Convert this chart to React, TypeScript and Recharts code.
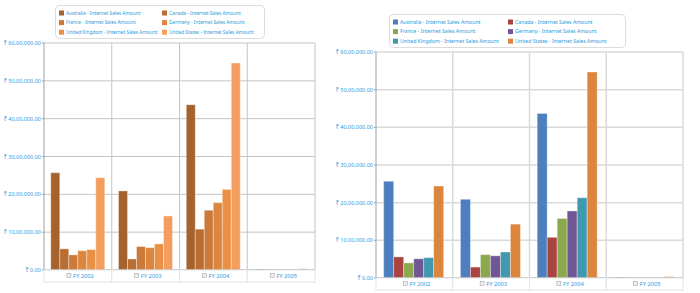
import React from 'react';
import { BarChart, Bar, XAxis, YAxis, CartesianGrid } from 'recharts';

// Internet sales by fiscal year (rupees)
const categories = ['FY 2002', 'FY 2003', 'FY 2004', 'FY 2005'];
const australia = [2570000, 2090000, 4370000, 25000];
const canada = [560000, 290000, 1080000, 15000];
const france = [400000, 620000, 1580000, 5000];
const germany = [510000, 590000, 1780000, 5000];
const unitedKingdom = [540000, 690000, 2130000, 6000];
const unitedStates = [2440000, 1430000, 5470000, 35000];
const yTicks = [0, 1000000, 2000000, 3000000, 4000000, 5000000, 6000000];

const SERIES = [
  { key: 'australia', name: 'Australia - Internet Sales Amount', values: australia },
  { key: 'canada', name: 'Canada - Internet Sales Amount', values: canada },
  { key: 'france', name: 'France - Internet Sales Amount', values: france },
  { key: 'germany', name: 'Germany - Internet Sales Amount', values: germany },
  { key: 'uk', name: 'United Kingdom - Internet Sales Amount', values: unitedKingdom },
  { key: 'us', name: 'United States - Internet Sales Amount', values: unitedStates },
];

const data = categories.map((year, i) => {
  const row: Record<string, string | number> = { year };
  SERIES.forEach((s) => {
    row[s.key] = s.values[i];
  });
  return row;
});

const ORANGE = ['#a6622c', '#b96d33', '#cc7a3a', '#dc853f', '#ea9046', '#f39e5f'];
const OFFICE = ['#4d7ebd', '#a94440', '#8ca84e', '#715695', '#4199b0', '#dd853c'];

const TEXT = '#2a9be0';
const FONT = '"Noto Sans", "DejaVu Sans", sans-serif';

// Indian digit grouping: 60,00,000.00
const fmtINR = (v: number) => {
  const s = Math.round(v).toString();
  const last3 = s.slice(-3);
  let rest = s.slice(0, -3);
  if (rest) rest = rest.replace(/\B(?=(\d{2})+(?!\d))/g, ',') + ',';
  return `₹ ${rest}${last3}.00`;
};

const XTick = (props: any) => {
  const { x, y, payload, bw } = props;
  return (
    <g>
      <rect x={x - bw / 2} y={y} width={bw} height={12} fill="#fff" stroke="#e4e4e4" />
      <rect x={x - 11} y={y + 3.5} width={4} height={4} fill="#eee" stroke="#999" strokeWidth={0.5} />
      <text x={x - 5} y={y + 7.5} fontSize={5.8} fill={TEXT} fontFamily={FONT}>
        {payload.value}
      </text>
    </g>
  );
};

const YTick = (props: any) => {
  const { x, y, payload } = props;
  return (
    <text x={x} y={y + 2} textAnchor="end" fontSize={5.5} fill={TEXT} fontFamily={FONT}>
      {fmtINR(payload.value)}
    </text>
  );
};

const LegendBox = ({
  colors,
  width,
  colW,
  fontSize,
}: {
  colors: string[];
  width: number;
  colW: number;
  fontSize: number;
}) => (
  <svg width={width} height={34} style={{ display: 'block' }}>
    <rect x={0.5} y={0.5} width={width - 1} height={33} rx={4} fill="#fff" stroke="#dcdcdc" />
    {SERIES.map((s, i) => {
      const cx = 4 + (i % 2) * colW;
      const cy = 8 + Math.floor(i / 2) * 9.6;
      return (
        <g key={s.key}>
          <rect x={cx} y={cy - 2.5} width={5} height={5} fill={colors[i]} />
          <text x={cx + 7} y={cy + 1.8} fontSize={fontSize} fill={TEXT} fontFamily={FONT}>
            {s.name}
          </text>
        </g>
      );
    })}
  </svg>
);

interface PanelProps {
  left: number;
  width: number;
  margin: { top: number; right: number; bottom: number; left: number };
  yWidth: number;
  colors: string[];
  grid: string;
  gridWidth: number;
  axis: string;
}

const Panel = ({ left, width, margin, yWidth, colors, grid, gridWidth, axis }: PanelProps) => {
  const plotW = width - margin.left - margin.right - yWidth;
  const bw = plotW / categories.length;
  return (
    <div style={{ position: 'absolute', left, top: 0 }}>
      <BarChart width={width} height={293} data={data} margin={margin} barCategoryGap="10%" barGap={0}>
        <CartesianGrid
          stroke={grid}
          strokeWidth={gridWidth}
          verticalCoordinatesGenerator={({ offset }: any) =>
            categories.map((_, i) => offset.left + (i + 1) * (offset.width / categories.length))
          }
        />
        <XAxis
          dataKey="year"
          height={13}
          interval={0}
          tickLine={false}
          tickSize={0}
          tickMargin={0}
          stroke={axis}
          tick={<XTick bw={bw} />}
        />
        <YAxis
          width={yWidth}
          domain={[0, 6000000]}
          ticks={yTicks}
          interval={0}
          tickSize={2}
          tickMargin={1}
          stroke={axis}
          tick={<YTick />}
        />
        {SERIES.map((s, i) => (
          <Bar
            key={s.key}
            dataKey={s.key}
            name={s.name}
            fill={colors[i]}
            stroke="rgba(255,255,255,0.35)"
            strokeWidth={1}
            isAnimationActive={false}
          />
        ))}
      </BarChart>
    </div>
  );
};

export default function App() {
  return (
    <div
      style={{
        position: 'absolute',
        left: 0,
        top: 0,
        width: 700,
        height: 293,
        background: '#fff',
        fontFamily: FONT,
        overflow: 'hidden',
      }}
    >
      <Panel
        left={0}
        width={320}
        margin={{ top: 43, right: 5, bottom: 10, left: 0 }}
        yWidth={44}
        colors={ORANGE}
        grid="#c4c4c4"
        gridWidth={1}
        axis="#a0a0a0"
      />
      <Panel
        left={330}
        width={360}
        margin={{ top: 52, right: 7, bottom: 2, left: 0 }}
        yWidth={46}
        colors={OFFICE}
        grid="#dadada"
        gridWidth={1.5}
        axis="#a0a0a0"
      />
      <div style={{ position: 'absolute', left: 55, top: 5 }}>
        <LegendBox colors={ORANGE} width={210} colW={103} fontSize={4.8} />
      </div>
      <div style={{ position: 'absolute', left: 389, top: 14 }}>
        <LegendBox colors={OFFICE} width={237} colW={115} fontSize={5.2} />
      </div>
    </div>
  );
}
